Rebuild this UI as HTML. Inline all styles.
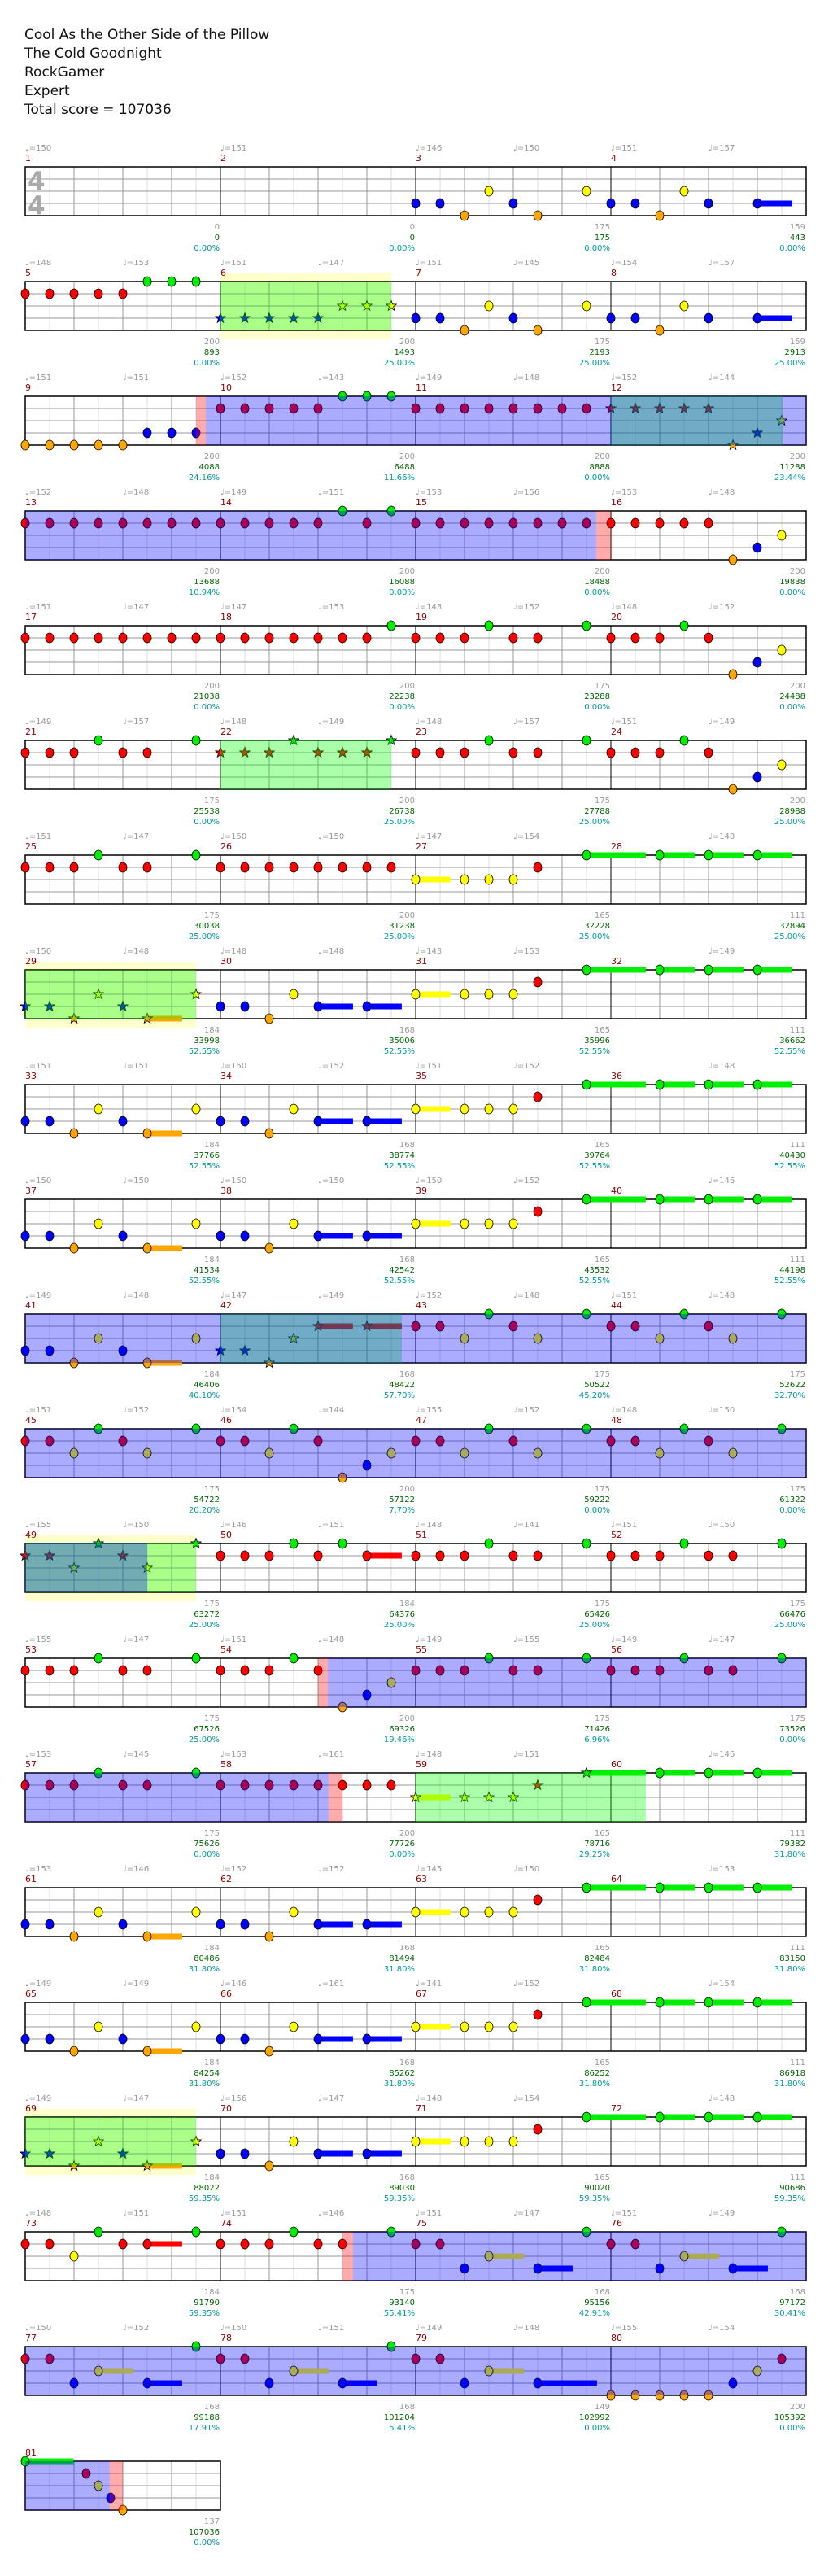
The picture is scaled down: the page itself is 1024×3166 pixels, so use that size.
<!DOCTYPE html>
<html><head><meta charset="utf-8">
<style>
html,body{margin:0;padding:0;background:#fff;}
body{width:1024px;height:3166px;overflow:hidden;}
svg{display:block;}
</style></head>
<body>
<div id="root"></div>
<script>
var X0=31,MW=240,E=30;
var T=[null,
"","","B0 B1 O2 Y3 B4 O5 Y7","B0 B1 O2 Y3 B4 B6:1.43",
"R0 R1 R2 R3 R4 G5 G6 G7","*B0 B1 B2 B3 B4 Y5 Y6 Y7","B0 B1 O2 Y3 B4 O5 Y7","B0 B1 O2 Y3 B4 B6:1.43",
"O0 O1 O2 O3 O4 B5 B6 B7","R0 R1 R2 R3 R4 G5 G6 G7","R0 R1 R2 R3 R4 R5 R6 R7","*R0 R1 R2 R3 R4 O5 B6 Y7",
"R0 R1 R2 R3 R4 R5 R6 R7","R0 R1 R2 R3 R4 G5 R6 G7","R0 R1 R2 R3 R4 R5 R6 R7","R0 R1 R2 R3 R4 O5 B6 Y7",
"R0 R1 R2 R3 R4 R5 R6 R7","R0 R1 R2 R3 R4 R5 R6 G7","R0 R1 R2 G3 R4 R5 G7","R0 R1 R2 G3 R4 O5 B6 Y7",
"R0 R1 R2 G3 R4 R5 G7","*R0 R1 R2 G3 R4 R5 R6 G7","R0 R1 R2 G3 R4 R5 G7","R0 R1 R2 G3 R4 O5 B6 Y7",
"R0 R1 R2 G3 R4 R5 G7","R0 R1 R2 R3 R4 R5 R6 R7","Y0:1.43 Y2 Y3 Y4 R5 G7:2.43","G2:1.43 G4:1.43 G6:1.43",
"*B0 B1 O2 Y3 B4 O5:1.43 Y7","B0 B1 O2 Y3 B4:1.43 B6:1.43","Y0:1.43 Y2 Y3 Y4 R5 G7:2.43","G2:1.43 G4:1.43 G6:1.43",
"B0 B1 O2 Y3 B4 O5:1.43 Y7","B0 B1 O2 Y3 B4:1.43 B6:1.43","Y0:1.43 Y2 Y3 Y4 R5 G7:2.43","G2:1.43 G4:1.43 G6:1.43",
"B0 B1 O2 Y3 B4 O5:1.43 Y7","B0 B1 O2 Y3 B4:1.43 B6:1.43","Y0:1.43 Y2 Y3 Y4 R5 G7:2.43","G2:1.43 G4:1.43 G6:1.43",
"B0 B1 O2 Y3 B4 O5:1.43 Y7","*B0 B1 O2 Y3 R4:1.43 R6:1.43","R0 R1 Y2 G3 R4 Y5 G7","R0 R1 Y2 G3 R4 Y5 G7",
"R0 R1 Y2 G3 R4 Y5 G7","R0 R1 Y2 G3 R4 O5 B6 Y7","R0 R1 Y2 G3 R4 Y5 G7","R0 R1 Y2 G3 R4 Y5 G7",
"*R0 R1 Y2 G3 R4 Y5 G7","R0 R1 R2 G3 R4 G5 R6:1.43","R0 R1 R2 G3 R4 R5 G7","R0 R1 R2 G3 R4 R5 G7",
"R0 R1 R2 G3 R4 R5 G7","R0 R1 R2 G3 R4 O5 B6 Y7","R0 R1 R2 G3 R4 R5 G7","R0 R1 R2 G3 R4 R5 G7",
"R0 R1 R2 G3 R4 R5 G7","R0 R1 R2 R3 R4 R5 R6 R7","*Y0:1.43 Y2 Y3 Y4 R5 G7:2.43","G2:1.43 G4:1.43 G6:1.43",
"B0 B1 O2 Y3 B4 O5:1.43 Y7","B0 B1 O2 Y3 B4:1.43 B6:1.43","Y0:1.43 Y2 Y3 Y4 R5 G7:2.43","G2:1.43 G4:1.43 G6:1.43",
"B0 B1 O2 Y3 B4 O5:1.43 Y7","B0 B1 O2 Y3 B4:1.43 B6:1.43","Y0:1.43 Y2 Y3 Y4 R5 G7:2.43","G2:1.43 G4:1.43 G6:1.43",
"*B0 B1 O2 Y3 B4 O5:1.43 Y7","B0 B1 O2 Y3 B4:1.43 B6:1.43","Y0:1.43 Y2 Y3 Y4 R5 G7:2.43","G2:1.43 G4:1.43 G6:1.43",
"R0 R1 Y2 G3 R4 R5:1.43 G7","R0 R1 R2 G3 R4 R5 G7","R0 R1 B2 Y3:1.43 B5:1.43 G7","R0 R1 B2 Y3:1.43 B5:1.43 G7",
"R0 R1 B2 Y3:1.43 B5:1.43 G7","R0 R1 B2 Y3:1.43 B5:1.43 G7","R0 R1 B2 Y3:1.43 B5:2.43","O0 O1 O2 O3 O4 B5 Y6 R7",
"G0:1.98 R2.5 Y3 B3.5 O4"];
var TP=[null,[150],[151],[146,150],[151,157],[148,153],[151,147],[151,145],[154,157],[151,151],[152,143],[149,148],[152,144],
[152,148],[149,151],[153,156],[153,148],[151,147],[147,153],[143,152],[148,152],[149,157],[148,149],[148,157],[151,149],
[151,147],[150,150],[147,154],[null,148],[150,148],[148,148],[143,153],[null,149],[151,151],[150,152],[151,152],[null,148],
[150,150],[150,150],[150,152],[null,146],[149,148],[147,149],[152,148],[151,148],[151,152],[154,144],[155,152],[148,150],
[155,150],[146,151],[148,141],[151,150],[155,147],[151,148],[149,155],[149,147],[153,145],[153,161],[148,151],[null,146],
[153,146],[152,152],[145,150],[null,153],[149,149],[146,161],[141,152],[null,154],[149,147],[156,147],[148,154],[null,148],
[148,151],[151,146],[151,147],[151,149],[150,152],[150,151],[149,148],[155,154],[]];
var L="0,0,0.00%|0,0,0.00%|175,175,0.00%|159,443,0.00%|200,893,0.00%|200,1493,25.00%|175,2193,25.00%|159,2913,25.00%|200,4088,24.16%|200,6488,11.66%|200,8888,0.00%|200,11288,23.44%|200,13688,10.94%|200,16088,0.00%|200,18488,0.00%|200,19838,0.00%|200,21038,0.00%|200,22238,0.00%|175,23288,0.00%|200,24488,0.00%|175,25538,0.00%|200,26738,25.00%|175,27788,25.00%|200,28988,25.00%|175,30038,25.00%|200,31238,25.00%|165,32228,25.00%|111,32894,25.00%|184,33998,52.55%|168,35006,52.55%|165,35996,52.55%|111,36662,52.55%|184,37766,52.55%|168,38774,52.55%|165,39764,52.55%|111,40430,52.55%|184,41534,52.55%|168,42542,52.55%|165,43532,52.55%|111,44198,52.55%|184,46406,40.10%|168,48422,57.70%|175,50522,45.20%|175,52622,32.70%|175,54722,20.20%|200,57122,7.70%|175,59222,0.00%|175,61322,0.00%|175,63272,25.00%|184,64376,25.00%|175,65426,25.00%|175,66476,25.00%|175,67526,25.00%|200,69326,19.46%|175,71426,6.96%|175,73526,0.00%|175,75626,0.00%|200,77726,0.00%|165,78716,29.25%|111,79382,31.80%|184,80486,31.80%|168,81494,31.80%|165,82484,31.80%|111,83150,31.80%|184,84254,31.80%|168,85262,31.80%|165,86252,31.80%|111,86918,31.80%|184,88022,59.35%|168,89030,59.35%|165,90020,59.35%|111,90686,59.35%|184,91790,59.35%|175,93140,55.41%|168,95156,42.91%|168,97172,30.41%|168,99188,17.91%|168,101204,5.41%|149,102992,0.00%|200,105392,0.00%|137,107036,0.00%".split("|");
var BLUE=[[71.4,119.4],[320,389],[428.4,460.43],[589.43,643.46]];
var RED=[[71,71.4],[119.4,120],[428,428.4],[460.43,461],[589,589.43],[643.46,644]];
var GRN=[[40,47],[88,95.05],[168,175],[224,231],[328,335.43],[384,391],[464,473.43],[544,551]];
var YEL=[[40,47],[224,231],[384,391],[544,551]];
var COL={G:"#00ee00",R:"#ff0000",Y:"#ffff00",B:"#0000ff",O:"#ffa500"};
var LANE={G:0,R:1,Y:2,B:3,O:4};
function star(cx,cy,r,fill){var p=[];for(var i=0;i<10;i++){var a=-Math.PI/2+i*Math.PI/5;var rr=i%2?r*0.42:r;p.push((cx+rr*Math.cos(a)).toFixed(1)+","+(cy+rr*Math.sin(a)).toFixed(1));}
return '<polygon points="'+p.join(" ")+'" fill="'+fill+'" stroke="#000" stroke-width="0.8"/>';}
var s='<svg xmlns="http://www.w3.org/2000/svg" width="1024" height="3166" font-family="DejaVu Sans, Liberation Sans, sans-serif">';
var titles=["Cool As the Other Side of the Pillow","The Cold Goodnight","RockGamer","Expert","Total score = 107036"];
for(var i=0;i<5;i++)s+='<text x="30" y="'+(48+i*23)+'" font-size="17" fill="#111">'+titles[i]+'</text>';
function band(list,r,n,y,h,fill){var out="";var a0=r*32,a1=r*32+8*n;list.forEach(function(iv){var g1=Math.max(iv[0],a0),g2=Math.min(iv[1],a1);if(g2>g1){out+='<rect x="'+(X0+(g1-a0)*E)+'" y="'+y+'" width="'+((g2-g1)*E)+'" height="'+h+'" fill="'+fill+'"/>';}});return out;}
for(var r=0;r<21;r++){
 var Ty=205+r*141;var n=Math.min(4,81-4*r);var W=n*MW;
 s+=band(YEL,r,n,Ty-10,81,"#ffffcc");
 for(var k=1;k<8*n;k++){var x=X0+k*E;if(k%8==0)continue;s+='<line x1="'+x+'" y1="'+Ty+'" x2="'+x+'" y2="'+(Ty+60)+'" stroke="'+(k%2?"#dddddd":"#999999")+'" stroke-width="1"/>';}
 for(var j=1;j<4;j++)s+='<line x1="'+X0+'" y1="'+(Ty+j*15)+'" x2="'+(X0+W)+'" y2="'+(Ty+j*15)+'" stroke="#999999" stroke-width="1"/>';
 for(var k=1;k<n;k++){var x=X0+k*MW;s+='<line x1="'+x+'" y1="'+Ty+'" x2="'+x+'" y2="'+(Ty+60)+'" stroke="#000" stroke-width="1"/>';}
 s+='<rect x="'+X0+'" y="'+Ty+'" width="'+W+'" height="60" fill="none" stroke="#000" stroke-width="1.5"/>';
 if(r==0){s+='<text x="34" y="233" font-size="31" font-weight="bold" fill="#aaaaaa">4</text><text x="34" y="263" font-size="31" font-weight="bold" fill="#aaaaaa">4</text>';}
 for(var q=0;q<n;q++){
  var m=4*r+q+1;var mx=X0+q*MW;
  var tp=TP[m];
  if(tp[0]!=null&&tp[0]!==undefined)s+='<text x="'+mx+'" y="'+(Ty-20)+'" font-size="10" fill="#999999">♩=' +tp[0]+'</text>';
  if(tp[1]!=null)s+='<text x="'+(mx+120)+'" y="'+(Ty-20)+'" font-size="10" fill="#999999">♩=' +tp[1]+'</text>';
  s+='<text x="'+mx+'" y="'+(Ty-7)+'" font-size="11" fill="#8b0000">'+m+'</text>';
  var lb=L[m-1].split(",");
  s+='<text x="'+(mx+MW-1)+'" y="'+(Ty+77)+'" font-size="10" text-anchor="end" fill="#999999">'+lb[0]+'</text>';
  s+='<text x="'+(mx+MW-1)+'" y="'+(Ty+90)+'" font-size="10" text-anchor="end" fill="#006400">'+lb[1]+'</text>';
  s+='<text x="'+(mx+MW-1)+'" y="'+(Ty+103)+'" font-size="10" text-anchor="end" fill="#009999">'+lb[2]+'</text>';
  var str=T[m];var isStar=false;if(str.charAt(0)=="*"){isStar=true;str=str.slice(1);}
  if(!str)continue;
  var toks=str.split(" ");var sus="",nts="";
  toks.forEach(function(t){var c=t.charAt(0);var rest=t.slice(1).split(":");var p=parseFloat(rest[0]);var cx=mx+p*E;var cy=Ty+LANE[c]*15;
   if(rest[1]){sus+='<rect x="'+cx+'" y="'+(cy-3.5)+'" width="'+(parseFloat(rest[1])*E)+'" height="7" fill="'+COL[c]+'"/>';}
   if(isStar)nts+=star(cx,cy,6.5,COL[c]);else nts+='<ellipse cx="'+cx+'" cy="'+cy+'" rx="5" ry="6" fill="'+COL[c]+'" stroke="#000" stroke-width="0.8"/>';});
  s+=sus+nts;
 }
 s+=band(GRN,r,n,Ty,60,"rgba(0,255,0,0.33)");
 s+=band(BLUE,r,n,Ty,60,"rgba(0,0,255,0.33)");
 s+=band(RED,r,n,Ty,60,"rgba(255,0,0,0.33)");
}
s+='</svg>';
document.getElementById("root").innerHTML=s;
</script>
</body></html>
